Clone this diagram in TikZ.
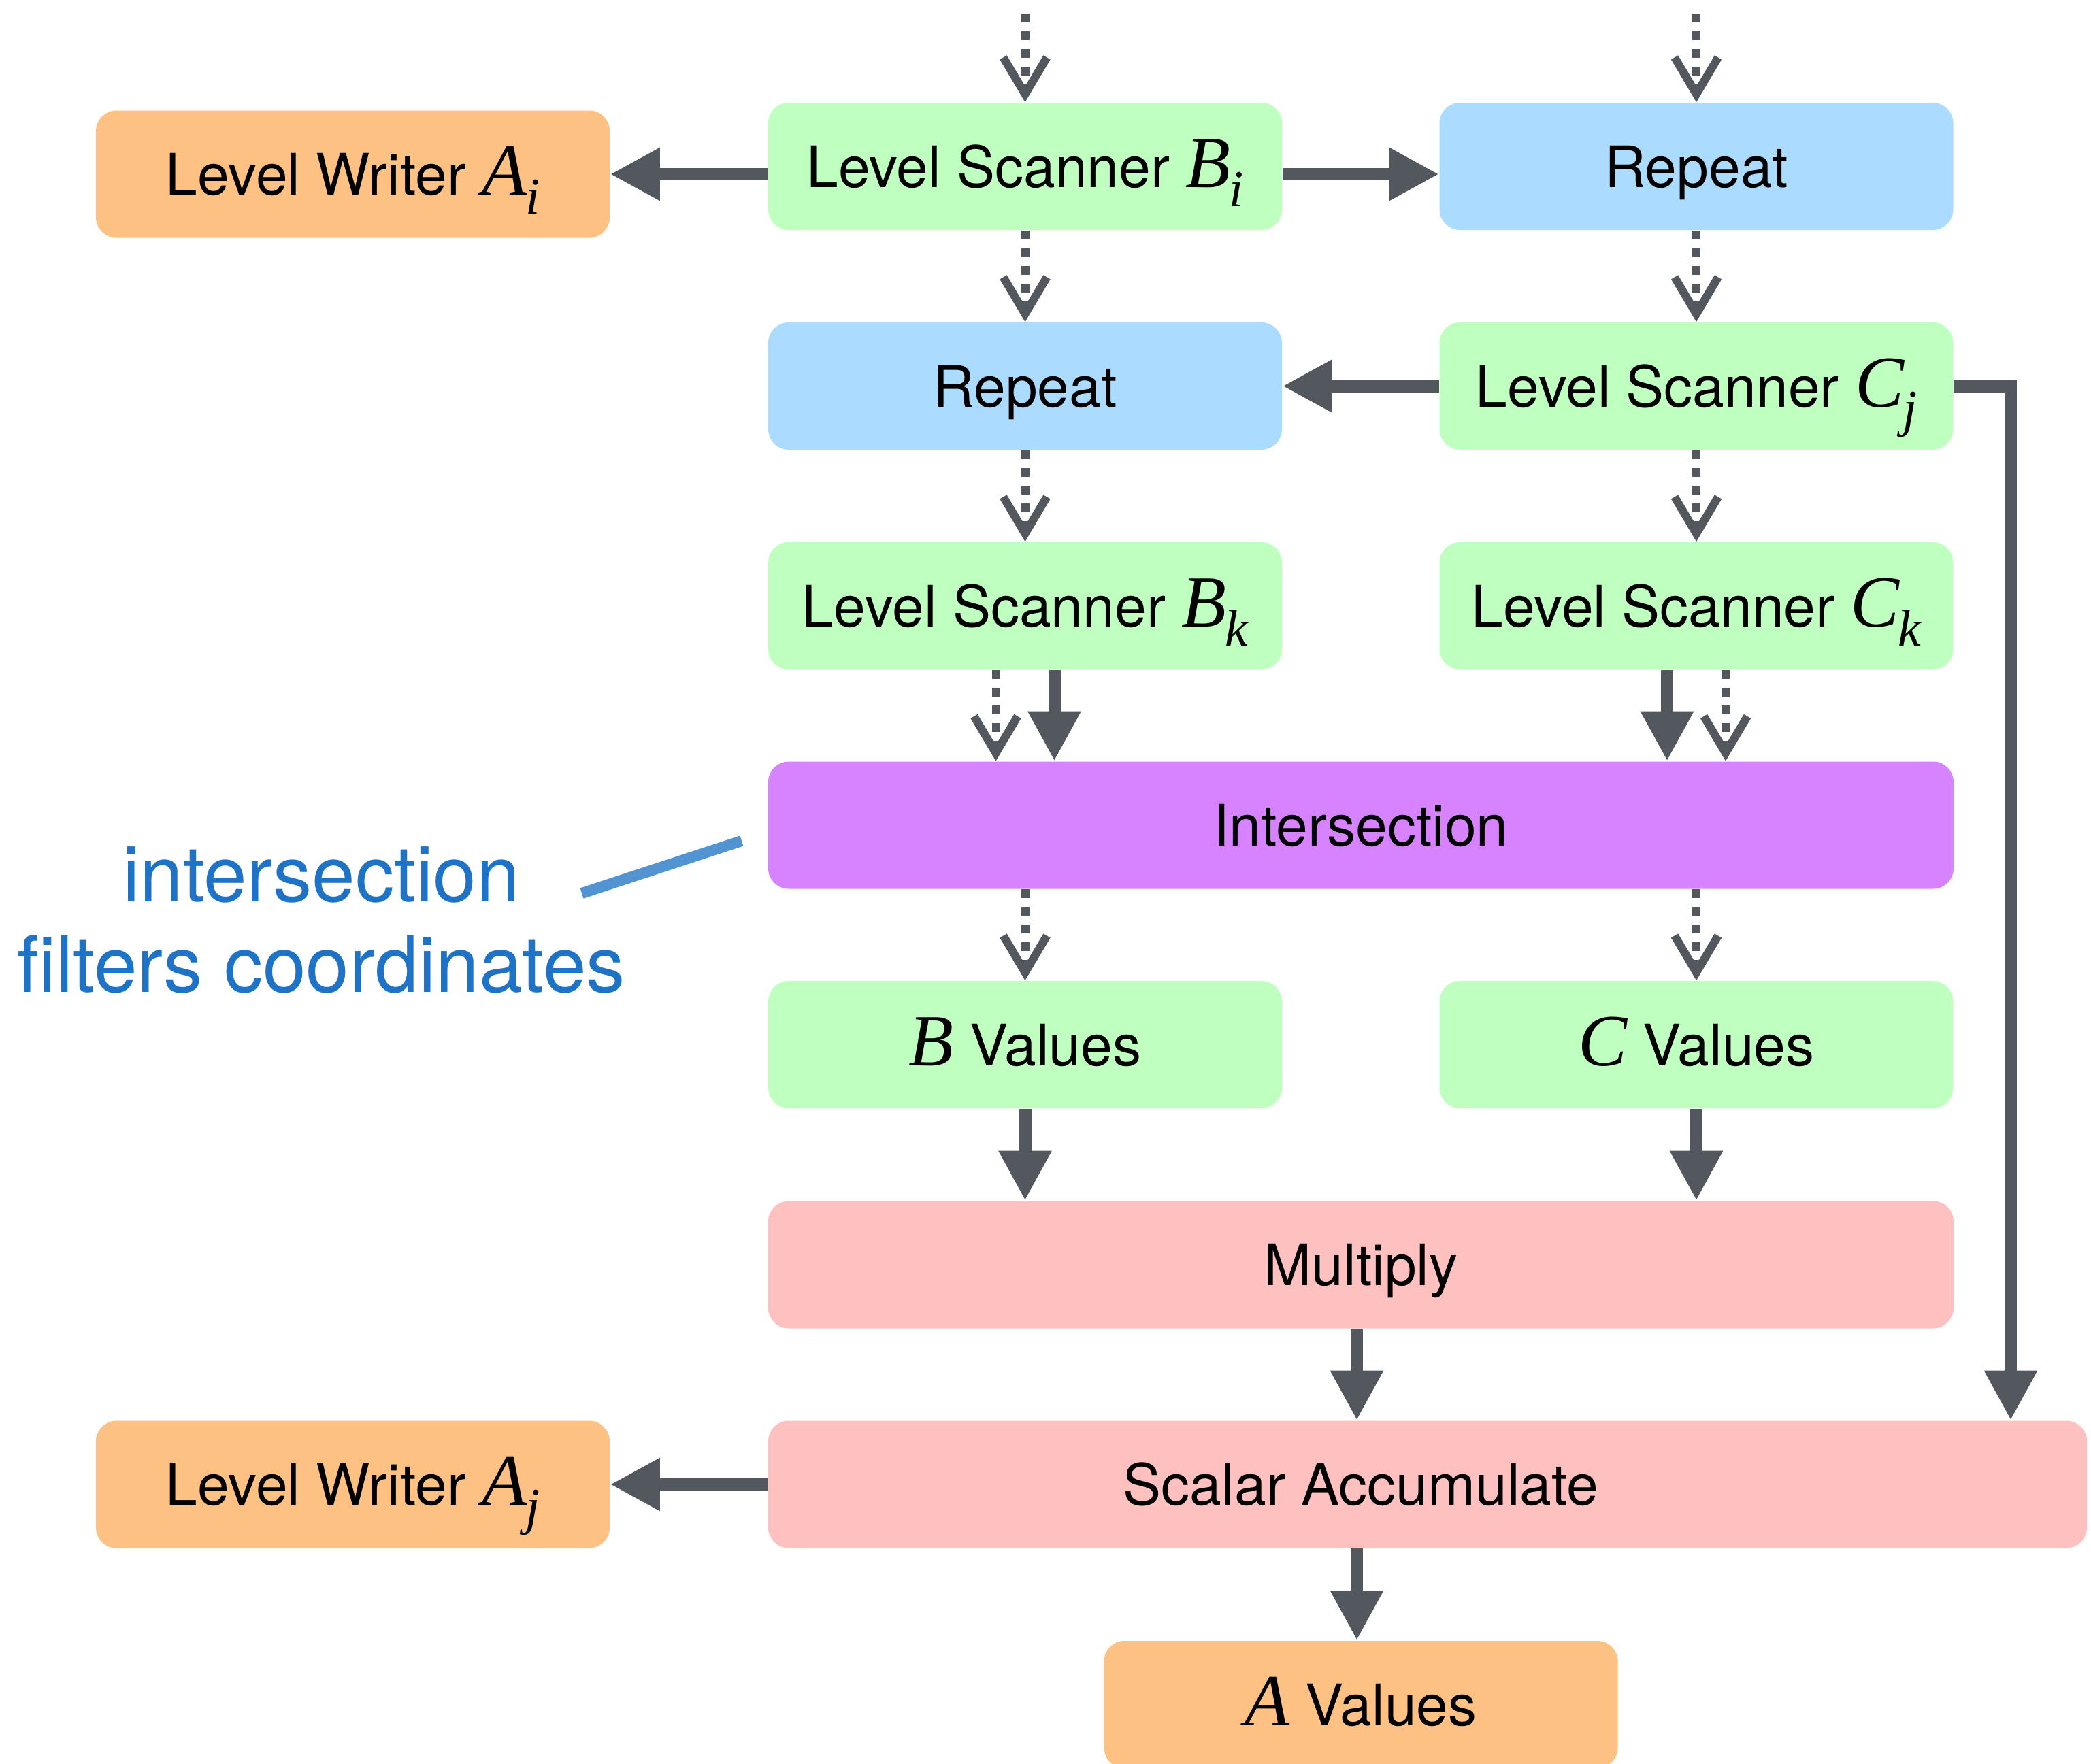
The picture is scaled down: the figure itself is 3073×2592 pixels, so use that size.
\documentclass[tikz,border=0pt]{standalone}
\usepackage{fontspec}
\setmainfont{TeX Gyre Heros}
\newfontfamily\tmsfont{Liberation Serif}
\usetikzlibrary{arrows.meta,calc}
\definecolor{gfill}{HTML}{BFFFC0}
\definecolor{bfill}{HTML}{ABDBFF}
\definecolor{ofill}{HTML}{FDC183}
\definecolor{pfill}{HTML}{D783FF}
\definecolor{rfill}{HTML}{FFC0C0}
\definecolor{agray}{HTML}{53575E}
\definecolor{ntext}{HTML}{1F73C6}
\definecolor{nline}{HTML}{5294D1}
\newcommand\mvar[1]{{\fontsize{27pt}{30pt}\selectfont\tmsfont\itshape #1}}
\newcommand\mysub[1]{\kern-0.5pt\raisebox{-7pt}{\fontsize{19pt}{20pt}\selectfont\tmsfont\itshape #1}}
\tikzset{
  box/.style={rounded corners=7.5pt, minimum width=188.75pt, minimum height=46.75pt,
    inner sep=0pt, text height=15.25pt, text depth=0pt,
    font=\fontsize{21pt}{25pt}\selectfont},
  widebox/.style={box, minimum width=435.5pt},
  sarrow/.style={draw=agray, line width=4.5pt, line join=miter,
    -{Triangle[length=18.25pt,width=18.25pt]}},
  darrow/.style={draw=agray, line width=3pt, dash pattern=on 3.25pt off 3.25pt,
    -{Straight Barb[length=13.5pt,width=16pt]}},
  note/.style={text=ntext, font=\fontsize{28.6pt}{33pt}\selectfont, inner sep=0pt, anchor=base}
}
\begin{document}
\begin{tikzpicture}[x=0.25pt,y=-0.25pt]
\useasboundingbox (0,0) rectangle (3073,2592);
% nodes
\node[box, fill=ofill] (wa) at (518.5,256) {Level Writer \mvar{A}\mysub{i}};
\node[box, fill=gfill] (bi) at (1506.5,244.5) {Level Scanner \mvar{B}\mysub{i}};
\node[box, fill=bfill] (rp1) at (2493,244.5) {Repeat};
\node[box, fill=bfill] (rp2) at (1506.5,567.5) {Repeat};
\node[box, fill=gfill] (cj) at (2493,567.5) {Level Scanner \mvar{C}\mysub{j}};
\node[box, fill=gfill] (bk) at (1506.5,890.5) {Level Scanner \mvar{B}\mysub{k}};
\node[box, fill=gfill] (ck) at (2493,890.5) {Level Scanner \mvar{C}\mysub{k}};
\node[widebox, fill=pfill] (is) at (2000,1213) {Intersection};
\node[box, fill=gfill] (bv) at (1506.5,1535.5) {\mvar{B} Values};
\node[box, fill=gfill] (cv) at (2493,1535.5) {\mvar{C} Values};
\node[widebox, fill=rfill] (mu) at (2000,1859) {Multiply};
\node[box, fill=rfill, minimum width=484.5pt] (sc) at (2098,2182) {Scalar Accumulate\hspace*{49pt}};
\node[box, fill=ofill] (wj) at (518.5,2182) {Level Writer \mvar{A}\mysub{j}};
\node[box, fill=ofill] (av) at (2000,2505.5) {\mvar{A} Values};
% annotation
\node[note] (n1) at (472,1325) {intersection};
\node[note] (n2) at (472,1458) {filters coordinates};
\coordinate (nl) at (855,1313);
\coordinate (nr) at (1090,1236);
\draw[nline, line width=4pt] (nl) -- (nr);
% incoming
\coordinate (in1) at (1506.5,20);
\coordinate (in2) at (2493,20);
\draw[darrow] (in1) -- (bi.north);
\draw[darrow] (in2) -- (rp1.north);
% row 1
\draw[sarrow] ([yshift=-2.875pt]bi.west) -- (wa.east);
\draw[sarrow] ([yshift=-2.875pt]bi.east) -- ([yshift=-2.875pt]rp1.west);
\draw[darrow] (bi.south) -- (rp2.north);
\draw[darrow] (rp1.south) -- (cj.north);
% row 2
\draw[sarrow] (cj.west) -- (rp2.east);
\coordinate (bend) at (2955,567.5);
\draw[sarrow] (cj.east) -- (bend) -- (bend |- sc.north);
\draw[darrow] (rp2.south) -- (bk.north);
\draw[darrow] (cj.south) -- (ck.north);
% row 3 to intersection
\draw[darrow] ([xshift=-10.75pt]bk.south) -- ([xshift=-10.75pt]bk.south |- is.north);
\draw[sarrow] ([xshift=10.75pt]bk.south) -- ([xshift=10.75pt]bk.south |- is.north);
\draw[sarrow] ([xshift=-10.75pt]ck.south) -- ([xshift=-10.75pt]ck.south |- is.north);
\draw[darrow] ([xshift=10.75pt]ck.south) -- ([xshift=10.75pt]ck.south |- is.north);
% intersection to values
\draw[darrow] (bv.north |- is.south) -- (bv.north);
\draw[darrow] (cv.north |- is.south) -- (cv.north);
% values to multiply
\draw[sarrow] (bv.south) -- (bv.south |- mu.north);
\draw[sarrow] (cv.south) -- (cv.south |- mu.north);
% multiply to scalar, scalar outputs
\draw[sarrow] ([xshift=-1.5pt]mu.south) -- ([xshift=-1.5pt]mu.south |- sc.north);
\draw[sarrow] ([xshift=-1.5pt]av.north |- sc.south) -- ([xshift=-1.5pt]av.north);
\draw[sarrow] (sc.west) -- (wj.east);
\end{tikzpicture}
\end{document}
